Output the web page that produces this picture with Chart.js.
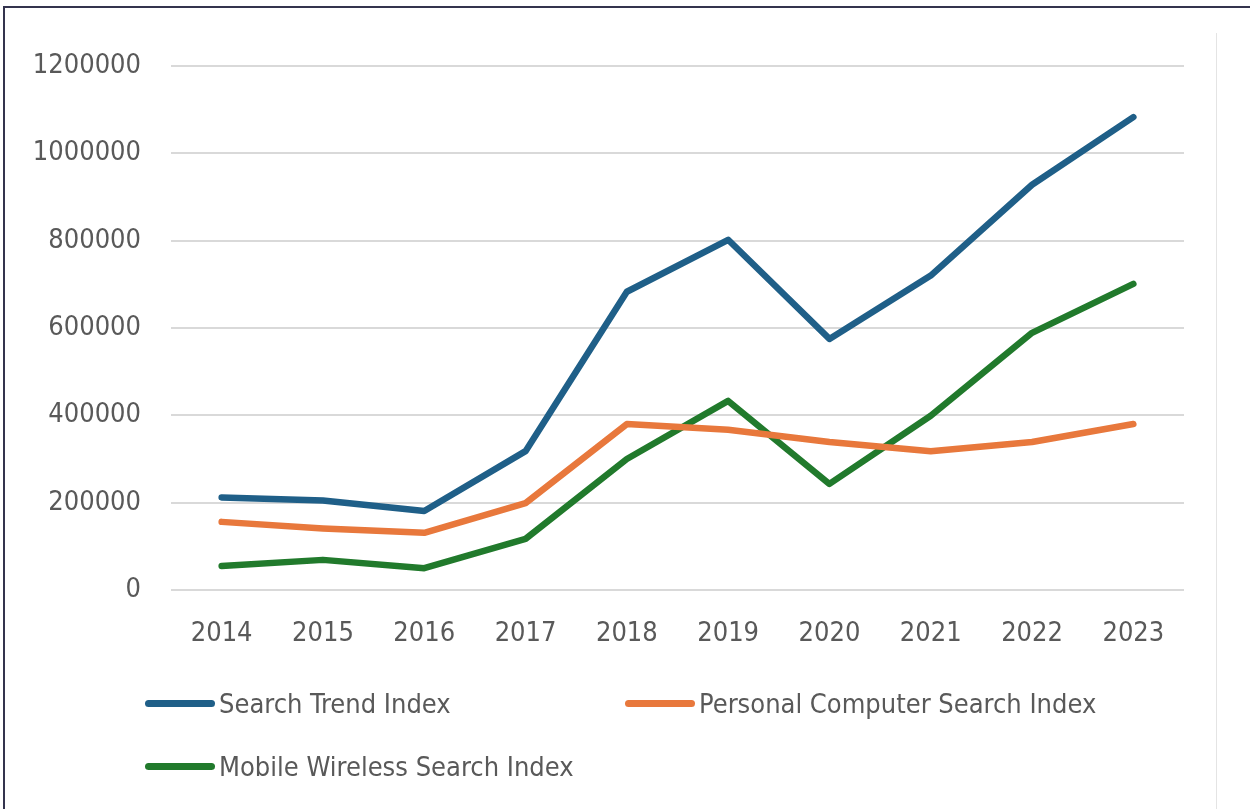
<!DOCTYPE html>
<html>
<head>
<meta charset="utf-8">
<script src="https://cdn.jsdelivr.net/npm/chart.js@4"></script>
<style>
  html, body { margin: 0; padding: 0; background: #fff; }
  body { width: 1250px; height: 809px; position: relative; overflow: hidden; }
  #wrap { position: absolute; left: 0; top: 0; width: 1250px; height: 809px; }
  #frame { position: absolute; left: 3px; top: 6px; right: -4px; bottom: -4px;
           border-left: 2px solid #34344e; border-top: 2px solid #34344e; pointer-events: none; }
  #edge { position: absolute; left: 1216px; top: 33px; width: 1px; bottom: 0; background: #e4e4e4; }
  #legend { position: absolute; left: 145px; top: 680px; width: 1050px;
            display: grid; grid-template-columns: 480px 570px; row-gap: 17px;
            font-family: "Liberation Sans Narrow", "DejaVu Sans Condensed", "Liberation Sans", sans-serif;
            font-size: 27px; color: #595959; }
  .item { display: flex; align-items: center; height: 46px; white-space: nowrap; }
  .swatch { flex: 0 0 70px; width: 70px; height: 7px; border-radius: 4px; margin-right: 4px; }
</style>
</head>
<body>
<div id="wrap"><canvas id="myChart" width="1250" height="809"></canvas></div>
<div id="edge"></div>
<div id="frame"></div>
<div id="legend"></div>
<script>
const years = ['2014', '2015', '2016', '2017', '2018', '2019', '2020', '2021', '2022', '2023'];
const searchTrend = [212000, 205000, 181000, 318000, 683000, 802000, 575000, 720000, 928000, 1083000];
const pcSearch = [156000, 141000, 131000, 199000, 380000, 367000, 339000, 318000, 339000, 380000];
const mobileSearch = [55000, 69000, 50000, 117000, 300000, 433000, 243000, 399000, 589000, 701000];
const seriesNames = ['Search Trend Index', 'Personal Computer Search Index', 'Mobile Wireless Search Index'];
const seriesColors = ['#1f5f88', '#e8783c', '#217a2c'];

const font = "'Liberation Sans Narrow', 'DejaVu Sans Condensed', 'Liberation Sans', sans-serif";

const line = (i, values) => ({
  label: seriesNames[i],
  data: values,
  borderColor: seriesColors[i],
  backgroundColor: seriesColors[i],
  borderWidth: 6.5,
  borderCapStyle: 'round',
  borderJoinStyle: 'round',
  pointRadius: 0,
  tension: 0
});

const data = {
  labels: years,
  datasets: [line(0, searchTrend), line(1, pcSearch), line(2, mobileSearch)]
};

const config = {
  type: 'line',
  data: data,
  options: {
    responsive: false,
    animation: false,
    layout: { padding: { left: 0, right: 66, top: 66, bottom: 149 } },
    plugins: { legend: { display: false }, tooltip: { enabled: false } },
    scales: {
      x: {
        offset: true,
        grid: { display: false },
        border: { display: false },
        ticks: { color: '#595959', font: { family: font, size: 27 }, padding: 20, maxRotation: 0 },
        afterFit: (scale) => { scale.height = 70; }
      },
      y: {
        min: 0,
        max: 1200000,
        grid: { color: '#d9d9d9', lineWidth: 2, drawTicks: false },
        border: { display: false },
        ticks: {
          stepSize: 200000, color: '#595959', font: { family: font, size: 27 }, padding: 30,
          callback: (v) => String(v)
        },
        afterFit: (scale) => { scale.width = 171; }
      }
    }
  }
};

const chart = new Chart(document.getElementById('myChart'), config);

const legend = document.getElementById('legend');
chart.data.datasets.forEach((ds) => {
  const item = document.createElement('div');
  item.className = 'item';
  const sw = document.createElement('span');
  sw.className = 'swatch';
  sw.style.background = ds.borderColor;
  const txt = document.createElement('span');
  txt.textContent = ds.label;
  item.appendChild(sw);
  item.appendChild(txt);
  legend.appendChild(item);
});
</script>
</body>
</html>
